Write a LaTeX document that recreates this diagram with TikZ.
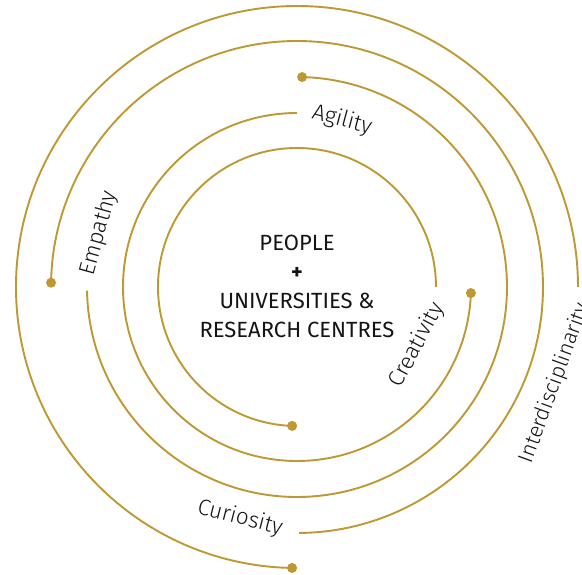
\documentclass[tikz,border=0pt]{standalone}
\usepackage{fontspec}
\setmainfont{Fira Sans Light}
\newfontfamily\ctrfont{Fira Sans}
\definecolor{gold}{RGB}{190,152,50}
\definecolor{ink}{RGB}{20,20,20}
\begin{document}
\begin{tikzpicture}[x=1pt,y=1pt,
  ring/.style={draw=gold, line width=1.9pt},
  enddot/.style={fill=gold},
  lbl/.style={font=\fontsize{22.5}{26}\selectfont, text=ink, inner sep=0pt},
  ctr/.style={font=\ctrfont\fontsize{22}{29}\selectfont, text=ink, inner sep=0pt, anchor=base}]
\useasboundingbox (-297,-288) rectangle (285,287);
\coordinate (O) at (0,0);
% rings
\draw[ring] (0:139pt) arc[start angle=0, end angle=268, radius=139pt];
\fill[enddot] (268:139pt) circle[radius=5pt];
\draw[ring] (90:174pt) arc[start angle=90, end angle=358, radius=174pt];
\fill[enddot] (358:174pt) circle[radius=5pt];
\draw[ring] (181:210pt) arc[start angle=181, end angle=448.6, radius=210pt];
\fill[enddot] (448.6:210pt) circle[radius=5pt];
\draw[ring] (270.5:246pt) arc[start angle=270.5, end angle=539, radius=246pt];
\fill[enddot] (539:246pt) circle[radius=5pt];
\draw[ring] (0:281pt) arc[start angle=0, end angle=269, radius=281pt];
\fill[enddot] (269:281pt) circle[radius=5pt];
% labels
\node[lbl, rotate=-15] (agility) at (45,167) {Agility};
\node[lbl, rotate=74.5] (empathy) at (-198,54) {Empathy};
\node[lbl, rotate=62] (creativity) at (120,-58) {Creativity};
\node[lbl, rotate=-14.5] (curiosity) at (-57,-231) {Curiosity};
\node[lbl, rotate=70, font=\fontsize{21.5}{26}\selectfont] (interdisc) at (258,-96) {Interdisciplinarity};
% centre text
\node[ctr] (people) at (0,36) {PEOPLE};
\node[ctr] (plus) at (0,7) {\bfseries +};
\node[ctr] (univ) at (0,-22) {UNIVERSITIES \&};
\node[ctr] (research) at (0,-51) {RESEARCH CENTRES};
\end{tikzpicture}
\end{document}
